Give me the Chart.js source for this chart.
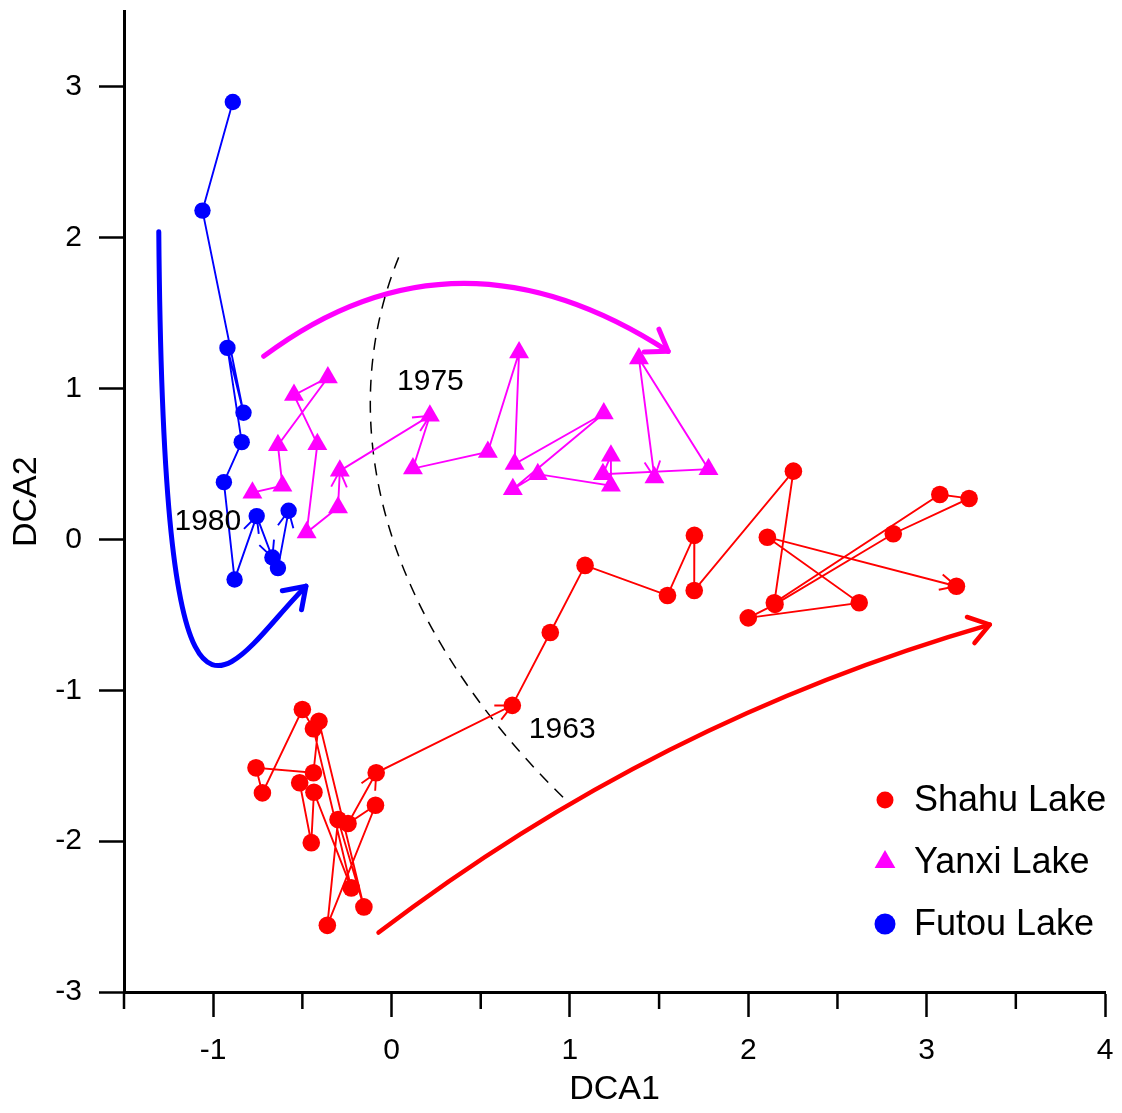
<!DOCTYPE html>
<html>
<head>
<meta charset="utf-8">
<title>DCA trajectories</title>
<script src="https://cdn.jsdelivr.net/npm/chart.js@4.4.1/dist/chart.umd.min.js"></script>
<style>
  html, body { margin: 0; padding: 0; background: #fff; }
  #wrap { width: 1122px; height: 1113px; }
</style>
</head>
<body>
<div id="wrap"><canvas id="dca"></canvas></div>
<script>
// sample scores, oldest -> youngest
const shahuDCA1 = [-0.515, -0.45, -0.435, -0.226, -0.438, -0.50, -0.724, -0.76, -0.438, -0.407, -0.155, -0.30, -0.36, -0.09, -0.244, -0.086,
  0.677, 0.89, 1.085, 1.547, 1.698, 1.697, 2.253, 2.146, 3.074, 3.238, 2.813, 2.15, 2.0, 2.622, 2.107, 3.167];
const shahuDCA2 = [-1.613, -2.01, -1.676, -2.31, -1.255, -1.127, -1.68, -1.514, -1.547, -1.205, -2.436, -1.857, -2.558, -1.762, -1.883, -1.547,
  -1.10, -0.617, -0.172, -0.371, 0.027, -0.338, 0.453, -0.42, 0.298, 0.272, 0.038, -0.43, -0.52, -0.42, 0.015, -0.31];
const shahuArrows = [15, 16, 31];

const yanxiDCA1 = [-0.78, -0.612, -0.637, -0.357, -0.547, -0.416, -0.476, -0.30, -0.29, 0.215, 0.12, 0.54,
  0.715, 0.69, 1.19, 0.68, 0.82, 1.23, 1.23, 1.185, 1.777, 1.387, 1.474];
const yanxiDCA2 = [0.31, 0.356, 0.625, 1.074, 0.957, 0.632, 0.046, 0.212, 0.455, 0.82, 0.47, 0.58,
  1.24, 0.50, 0.835, 0.333, 0.433, 0.356, 0.555, 0.433, 0.466, 1.20, 0.41];
const yanxiArrows = [8, 9, 22];

const futouDCA1 = [-0.89, -1.06, -0.83, -0.92, -0.84, -0.94, -0.88, -0.756, -0.668, -0.637, -0.577];
const futouDCA2 = [2.90, 2.18, 0.84, 1.27, 0.645, 0.38, -0.265, 0.155, -0.12, -0.19, 0.19];
const futouArrows = [7, 8, 10];

const lakeNames = ['Shahu Lake', 'Yanxi Lake', 'Futou Lake'];

const xMajorTicks = [-1, 0, 1, 2, 3, 4];
const xMinorTicks = [-1.5, -0.5, 0.5, 1.5, 2.5, 3.5];
const yMajorTicks = [-3, -2, -1, 0, 1, 2, 3];

// trend arrows and boundary, control points in DCA units
const trendShahu = [[-0.073, -2.606], [1.484, -1.2], [3.354, -0.564]];
const trendYanxi = [[-0.717, 1.214], [0.356, 2.165], [1.551, 1.247]];
const trendFutou = [[-1.305, 2.04], [-1.277, -1.857], [-0.929, -0.842], [-0.48, -0.31]];
const boundary = [[0.04, 1.87], [-0.286, 0.928], [-0.174, -0.398], [0.974, -1.724]];

const yearText = ['1963', '1975', '1980'];
const yearX = [0.957, 0.218, -1.03];
const yearY = [-1.253, 1.054, 0.126];

const FONT = "'Liberation Sans', Arial, sans-serif";
const toPoints = (xs, ys) => xs.map((x, i) => ({ x: x, y: ys[i] }));

function head(ctx, fx, fy, tx, ty, len, ang) {
  const a = Math.atan2(ty - fy, tx - fx);
  ctx.beginPath();
  ctx.moveTo(tx + len * Math.cos(a + Math.PI - ang), ty + len * Math.sin(a + Math.PI - ang));
  ctx.lineTo(tx, ty);
  ctx.lineTo(tx + len * Math.cos(a + Math.PI + ang), ty + len * Math.sin(a + Math.PI + ang));
  ctx.stroke();
}

function curve(ctx, p) {
  ctx.beginPath();
  ctx.moveTo(p[0][0], p[0][1]);
  if (p.length === 3) ctx.quadraticCurveTo(p[1][0], p[1][1], p[2][0], p[2][1]);
  else ctx.bezierCurveTo(p[1][0], p[1][1], p[2][0], p[2][1], p[3][0], p[3][1]);
  ctx.stroke();
}

const extras = {
  id: 'extras',
  beforeDatasetsDraw(chart) {
    const ctx = chart.ctx, xs = chart.scales.x, ys = chart.scales.y;
    const px = q => [xs.getPixelForValue(q[0]), ys.getPixelForValue(q[1])];
    ctx.save();
    ctx.lineCap = 'round';
    ctx.lineJoin = 'round';
    [[trendShahu, '#ff0000', 4.5], [trendYanxi, '#ff00ff', 5], [trendFutou, '#0000ff', 5]].forEach(t => {
      const p = t[0].map(px);
      ctx.strokeStyle = t[1];
      ctx.lineWidth = t[2];
      curve(ctx, p);
      const n = p.length;
      head(ctx, p[n - 2][0], p[n - 2][1], p[n - 1][0], p[n - 1][1], 24, 0.6);
    });
    ctx.lineCap = 'butt';
    ctx.strokeStyle = '#000';
    ctx.lineWidth = 1.5;
    ctx.setLineDash([12, 9]);
    curve(ctx, boundary.map(px));
    ctx.restore();
  },
  afterDatasetsDraw(chart) {
    const ctx = chart.ctx, xs = chart.scales.x, ys = chart.scales.y;
    ctx.save();
    chart.data.datasets.forEach((ds, di) => {
      const pts = chart.getDatasetMeta(di).data;
      ctx.strokeStyle = ds.borderColor;
      ctx.lineWidth = ds.borderWidth;
      ds.arrowAt.forEach(i => head(ctx, pts[i - 1].x, pts[i - 1].y, pts[i].x, pts[i].y, 18, 0.45));
    });
    ctx.fillStyle = '#000';
    ctx.font = '30px ' + FONT;
    ctx.textAlign = 'center';
    ctx.textBaseline = 'middle';
    yearText.forEach((t, i) => ctx.fillText(t, xs.getPixelForValue(yearX[i]), ys.getPixelForValue(yearY[i]) + 1));
    ctx.restore();
  },
  afterDraw(chart) {
    const ctx = chart.ctx, xs = chart.scales.x, area = chart.chartArea;
    ctx.save();
    // minor ticks on DCA1
    ctx.strokeStyle = '#000';
    ctx.lineWidth = 2.5;
    xMinorTicks.forEach(v => {
      const x = xs.getPixelForValue(v);
      ctx.beginPath();
      ctx.moveTo(x, area.bottom);
      ctx.lineTo(x, area.bottom + 17);
      ctx.stroke();
    });
    // legend inside the plot, bottom right
    ctx.font = '36px ' + FONT;
    ctx.textAlign = 'left';
    ctx.textBaseline = 'middle';
    chart.data.datasets.forEach((ds, i) => {
      const y = area.bottom - 192 + i * 62;
      ctx.fillStyle = ds.pointBackgroundColor;
      Chart.helpers.drawPoint(ctx, { pointStyle: ds.pointStyle, radius: ds.legendRadius, rotation: 0, borderWidth: 0 }, area.right - 220, y);
      ctx.fillStyle = '#000';
      ctx.fillText(ds.label, area.right - 191, y + 1);
    });
    ctx.restore();
  }
};

function series(i, xs, ys, color, style, r, lr, arrows) {
  return {
    label: lakeNames[i],
    data: toPoints(xs, ys),
    showLine: true,
    borderColor: color,
    borderWidth: 1.9,
    pointBackgroundColor: color,
    pointBorderWidth: 0,
    pointStyle: style,
    pointRadius: r,
    legendRadius: lr,
    arrowAt: arrows
  };
}

new Chart(document.getElementById('dca'), {
  type: 'scatter',
  data: {
    datasets: [
      series(0, shahuDCA1, shahuDCA2, '#ff0000', 'circle', 8.8, 8.5, shahuArrows),
      series(1, yanxiDCA1, yanxiDCA2, '#ff00ff', 'triangle', 11.5, 12, yanxiArrows),
      series(2, futouDCA1, futouDCA2, '#0000ff', 'circle', 8.2, 10.5, futouArrows)
    ]
  },
  options: {
    responsive: true,
    maintainAspectRatio: false,
    animation: false,
    layout: { padding: { top: 10, right: 17, left: 0, bottom: 0 } },
    plugins: { legend: { display: false }, tooltip: { enabled: false } },
    scales: {
      x: {
        type: 'linear',
        min: -1.5,
        max: 4,
        afterBuildTicks: s => { s.ticks = xMajorTicks.map(v => ({ value: v })); },
        afterFit: s => { s.height = 121; s.paddingLeft = 0; s.paddingRight = 0; },
        grid: { drawOnChartArea: false, tickLength: 25, tickWidth: 2.5, tickColor: '#000' },
        border: { color: '#000', width: 3 },
        ticks: { color: '#000', font: { family: FONT, size: 30 }, padding: 16, maxRotation: 0 },
        title: { display: true, text: 'DCA1', color: '#000', font: { family: FONT, size: 34 }, padding: { top: 0, bottom: 3 } }
      },
      y: {
        type: 'linear',
        min: -3,
        max: 3.5,
        afterBuildTicks: s => { s.ticks = yMajorTicks.map(v => ({ value: v })); },
        afterFit: s => { s.width = 124; s.paddingTop = 0; s.paddingBottom = 0; },
        grid: { drawOnChartArea: false, tickLength: 25, tickWidth: 2.5, tickColor: '#000' },
        border: { color: '#000', width: 3 },
        ticks: { color: '#000', font: { family: FONT, size: 30 }, padding: 17 },
        title: { display: true, text: 'DCA2', color: '#000', font: { family: FONT, size: 34 }, padding: { top: 6, bottom: 0 } }
      }
    }
  },
  plugins: [extras]
});
</script>
</body>
</html>
